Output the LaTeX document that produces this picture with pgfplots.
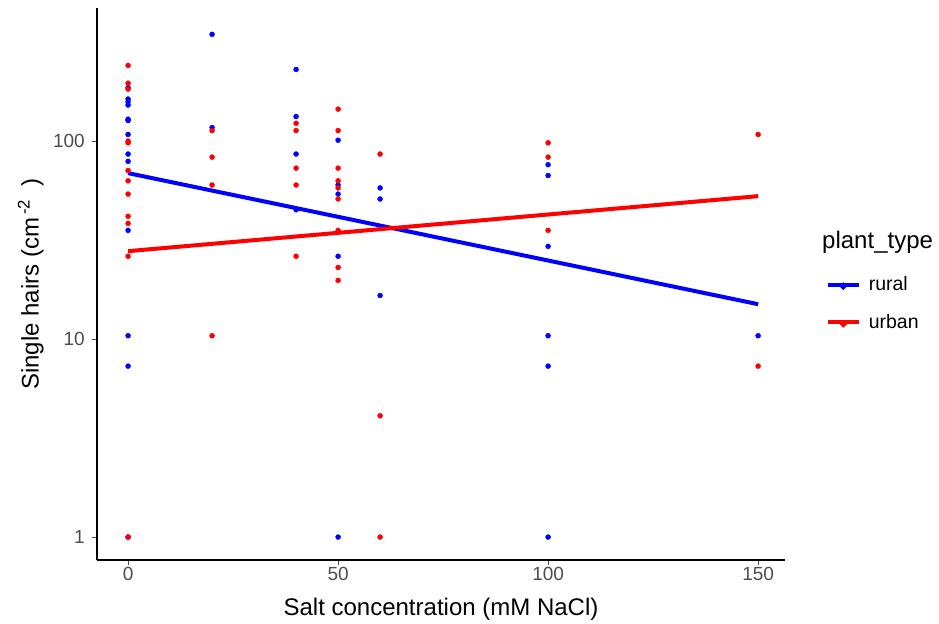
\documentclass[border=0pt]{standalone}
\usepackage{fontspec}
\setmainfont{Liberation Sans}
\usepackage{pgfplots}
\pgfplotsset{compat=1.18}
\definecolor{ticklab}{RGB}{77,77,77}
\begin{document}
\begin{tikzpicture}
\begin{axis}[
  scale only axis, width=688pt, height=552pt,
  at={(0,0)}, anchor=south west,
  xmin=-7.4, xmax=156.4,
  ymode=log, log basis y=10,
  ymin=0.766, ymax=470,
  xtick={0,50,100,150},
  ytick={1,10,100}, yticklabels={1,10,100},
  axis x line*=bottom, axis y line*=left,
  axis line style={-, black, line width=1.1pt},
  tick align=outside, major tick length=5pt,
  tick style={black!70, line width=1pt},
  ticklabel style={font=\fontsize{19}{19}\selectfont, text=ticklab, inner sep=2pt},
  yticklabel style={xshift=-5pt},
  /pgf/number format/assume math mode=true,
  xlabel={Salt concentration (mM NaCl)},
  ylabel={Single hairs (cm\textsuperscript{\,-2}\; )},
  label style={font=\fontsize{24}{24}\selectfont},
  xlabel style={yshift=-12pt},
  ylabel style={yshift=4pt},
  legend style={draw=none, fill=none, at={(1.059,0.4647)}, anchor=west,
    font=\fontsize{19.5}{20}\selectfont, row sep=18pt, inner xsep=0pt,
    nodes={inner xsep=8pt}},
  legend cell align=left,
  legend image code/.code={\draw[#1, line width=4pt] (0pt,0pt) -- (31pt,0pt); \fill[#1] (15.5pt,-1.5pt) circle (1.1pt);},
  clip=false,
]
% rural points
\addplot[only marks, mark=*, mark size=2.5pt, color=blue, forget plot] table {
x y
0 186
0 163
0 158
0 152
0 129
0 127
0 108
0 86
0 79
0 35.4
0 10.4
0 7.3
0 1
20 346
20 117
40 230
40 133
40 86
40 45
50 101
50 60
50 54
50 26.2
50 1
60 58
60 51
60 16.6
100 76
100 67
100 29.4
100 10.4
100 7.3
100 1
150 10.4
};
% urban points
\addplot[only marks, mark=*, mark size=2.5pt, color=red, forget plot] table {
x y
0 241
0 196
0 183
0 100
0 98
0 71
0 63
0 54
0 41.7
0 38.4
0 26.2
0 1
20 113
20 83
20 60
20 10.4
40 123
40 113
40 73
40 60
40 26.2
50 145
50 113
50 73
50 63
50 58
50 51
50 35.4
50 23
50 19.8
60 86
60 4.1
60 1
100 98
100 83
100 35.4
150 108
150 7.3
};
% fitted lines
\addplot[blue, line width=4pt] table {
x y
0 68.9
150 15.0
};
\addlegendentry{rural}
\addplot[red, line width=4pt] table {
x y
0 27.8
150 52.7
};
\addlegendentry{urban}
\node[anchor=west, font=\fontsize{24}{24}\selectfont, inner sep=0pt] at (axis description cs:1.0538,0.575) {plant\_type};
\end{axis}
\path[use as bounding box] (-97pt,-61pt) rectangle (842pt,560pt);
\end{tikzpicture}
\end{document}
